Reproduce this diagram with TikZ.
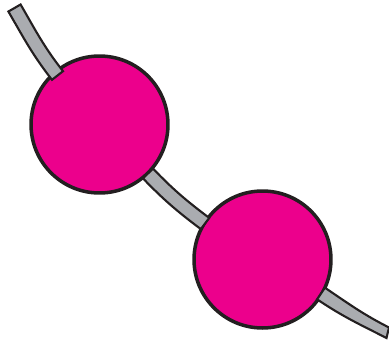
\documentclass[tikz,border=0pt]{standalone}
\definecolor{beadpink}{HTML}{EC008C}
\definecolor{cordgray}{HTML}{AAACB0}
\definecolor{inkline}{HTML}{231F20}
\tikzset{
  cord/.style={fill=cordgray, draw=inkline, line width=1.2pt},
  bead/.style={circle, fill=beadpink, draw=inkline, line width=2pt,
    minimum size=2.74cm, inner sep=0pt}
}
\begin{document}
\begin{tikzpicture}[x=0.02cm, y=0.02cm]
\useasboundingbox (0,0) rectangle (389,-342);

% Perlen
\node [bead] (bead1) at (99.5,-124.5) {};
\node [bead] (bead2) at (262.5,-259.5) {};

% Schnur oben links
\draw [cord] (20.6,-4.5) to[out=-60,in=128] (63,-71.2) -- (52,-79.8)
  to[out=128,in=-60] (8.4,-11.5) -- cycle;

% Schnur zwischen den Perlen
\draw [cord] (153,-168.6) to[out=-46,in=143] (209.2,-217.9) -- (200.8,-229.1)
  to[out=143,in=-46] (143,-178.4) -- cycle;

% Schnur unten rechts
\draw [cord] (324.9,-287.7) to[out=-34,in=153] (389,-327.5) -- (386.5,-338)
  to[out=153,in=-34] (317.1,-299.3) -- cycle;
\end{tikzpicture}
\end{document}
